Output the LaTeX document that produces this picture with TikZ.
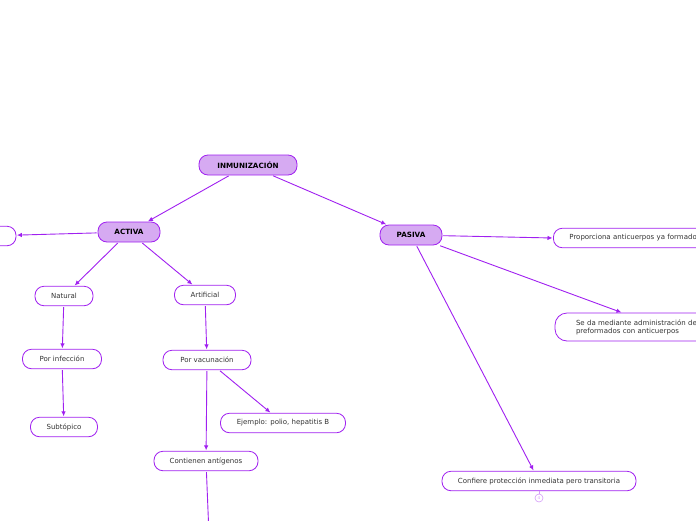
\documentclass[tikz,border=0pt]{standalone}
\usepackage{fontspec}
\setmainfont{DejaVu Sans}
\usepackage{tikz}
\usetikzlibrary{arrows.meta,positioning}
\definecolor{mline}{HTML}{A020F0}
\definecolor{mfill}{HTML}{D6AAF2}
\definecolor{mtext}{HTML}{333333}
\tikzset{
    topic/.style={draw=mline, fill=mfill, line width=0.8pt, rounded corners=9pt, minimum height=20pt, inner xsep=8pt, font=\fontsize{7.2}{8}\selectfont\bfseries, text=black},
    subtopic/.style={draw=mline, fill=white, line width=0.8pt, rounded corners=9pt, minimum height=19.5pt, inner xsep=8pt, font=\fontsize{7}{8}\selectfont, text=mtext},
    link/.style={draw=mline, line width=0.9pt, -{Latex[length=5pt,width=4.5pt]}, shorten <=1pt, shorten >=0.5pt}
}
\begin{document}
\begin{tikzpicture}[x=1pt,y=-1pt]
    \useasboundingbox (0,0) rectangle (696,520);
    % Central topic
    \node[topic, minimum width=98pt] (inmun) at (248,165) {INMUNIZACIÓN};
    % Main topics
    \node[topic, minimum width=62pt] (activa) at (129,232) {ACTIVA};
    \node[topic, minimum width=62pt] (pasiva) at (411,235) {PASIVA};
    % ACTIVA branch
    \node[subtopic, minimum width=62pt] (vacio) at (-15,236) {};
    \node[subtopic, minimum width=58pt] (natural) at (64,296) {Natural};
    \node[subtopic, minimum width=61pt] (artificial) at (205,295) {Artificial};
    \node[subtopic, minimum width=79pt] (infeccion) at (62,359) {Por infección};
    \node[subtopic, minimum width=67pt] (subtopico) at (64,427) {Subtópico};
    \node[subtopic, minimum width=88pt] (vacunacion) at (207,360) {Por vacunación};
    \node[subtopic, minimum width=125pt] (ejemplo) at (283,423) {Ejemplo: polio, hepatitis B};
    \node[subtopic, minimum width=104pt] (antigenos) at (206,461) {Contienen antígenos};
    \coordinate (abajo) at (209,535);
    % PASIVA branch
    \node[subtopic, anchor=west, minimum width=180pt, text width=160pt, inner xsep=16pt, align=left] (proporciona) at (553,238) {Proporciona anticuerpos ya formados};
    \node[subtopic, minimum width=210pt, minimum height=28pt, text width=170pt, inner xsep=21pt, align=left, rounded corners=12pt] (administracion) at (661,327) {Se da mediante administración de\\preformados con anticuerpos};
    \node[subtopic, minimum width=194pt] (confiere) at (539,481) {Confiere protección inmediata pero transitoria};
    \node[circle, draw=mline!45, line width=0.6pt, inner sep=0pt, minimum size=8pt, font=\fontsize{4}{4}\selectfont, text=mline!45] (plegado) at (539,498) {4};
    % Connectors
    \draw[link] (inmun) -- (activa);
    \draw[link] (inmun) -- (pasiva);
    \draw[link] (activa) -- (vacio);
    \draw[link] (activa) -- (natural);
    \draw[link] (activa) -- (artificial);
    \draw[link] (natural) -- (infeccion);
    \draw[link] (infeccion) -- (subtopico);
    \draw[link] (artificial) -- (vacunacion);
    \draw[link] (vacunacion) -- (antigenos);
    \draw[link] (vacunacion) -- (ejemplo);
    \draw[link] (antigenos) -- (abajo);
    \draw[link] (pasiva) -- (proporciona.west);
    \draw[link] (pasiva) -- (administracion);
    \draw[link] (pasiva) -- (confiere);
    \draw[mline!45, line width=0.6pt] (confiere) -- (plegado);
\end{tikzpicture}
\end{document}
